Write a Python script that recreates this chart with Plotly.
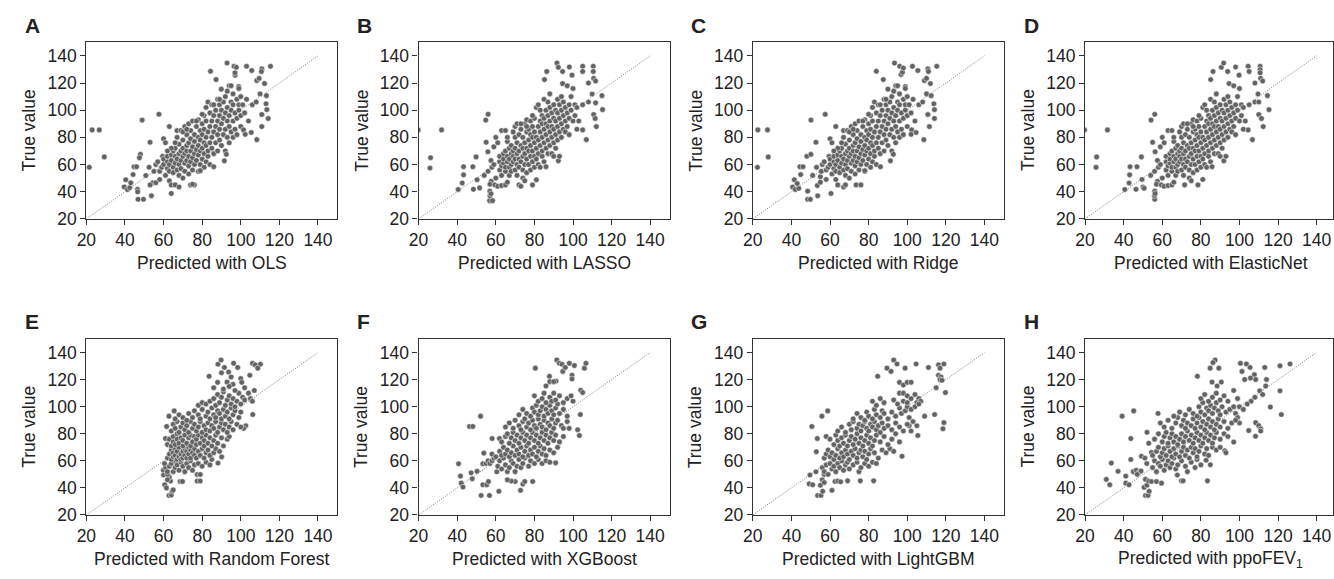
import plotly.graph_objects as go

# ---------------- data (approx.) ----------------
tick_vals = [20, 40, 60, 80, 100, 120, 140]
identity_line = [20, 140]
panel_letters = ["A", "B", "C", "D", "E", "F", "G", "H"]
x_titles = ["Predicted with OLS", "Predicted with LASSO", "Predicted with Ridge",
            "Predicted with ElasticNet", "Predicted with Random Forest",
            "Predicted with XGBoost", "Predicted with LightGBM",
            "Predicted with ppoFEV<sub>1</sub>"]
y_title = "True value"

# (predicted, true) pairs
OLS = [
    (21.5,58),(23,85.5),(26.7,85.5),(29.3,65.6),(39.6,43.5),(40.4,48.8),(41.3,41.6),(42.5,43),(43,46.5),
    (44.2,52.6),(44.7,58.4),(46,58.4),(46.5,41.8),(46.6,39.9),(46.8,34.4),(49.6,34.4),(48,67.5),(47.5,65),
    (48.9,92.7),(50.8,51.9),(53,76.4),(53.7,37),(54.5,46.6),(56,46.6),(57.6,97),(53,45),(52.5,58),(55,55),
    (56,60),(57,62),(58,49),(58,55),(59,58),(59.5,66),(60,60),(60,64),(60,79),(61,76),(61,52),(62,57),
    (62,62),(62,66),(63,48),(63,55),(63,60),(63,88),(64,38.7),(64,45),(64,63),(64,67),(65,58),(65,70),
    (65,54),(66,45),(66,61),(66,66),(66,72),(67,56),(67,64),(67,80),(67,85),(68,43.5),(68,52),(68,60),
    (68,68),(68,75),(69,57),(69,63),(69,70),(69,85),(70,50),(70,66),(70,72),(70,78),(71,55),(71,61),
    (71,68),(71,88),(72,63),(72,70),(72,74),(72,82),(73,53),(73,59),(73,66),(73,76),(73,90),(74,45),
    (74,62),(74,70),(74,79),(74,85),(75,56),(75,65),(75,73),(75,92),(76,45),(76,60),(76,68),(76,77),
    (76,82),(77,63),(77,71),(77,88),(78,55),(78,67),(78,74),(78,80),(78,93),(79,60),(79,70),(79,78),
    (79,85),(80,64),(80,72),(80,82),(80,90),(81,58),(81,68),(81,76),(81,86),(81,96),(82,62),(82,74),
    (82,80),(82,92),(82,102),(83,66),(83,70),(83,84),(83,106),(84,60),(84,76),(84,88),(84,98),(84.3,128.7),
    (85,72),(85,80),(85,92),(85,104),(86,58.4),(86,68),(86,84),(86,96),(87,76),(87,88),(87,100),(87.2,122.5),
    (88,70),(88,82),(88,92),(88,108),(89,78),(89,86),(89,96),(89,104),(90,74),(90,90),(90,100),(89.9,115.5),
    (91,82),(91,94),(91,106),(91.5,62.7),(92,70),(92,86),(92,98),(92,110),(92.5,67.5),(93,80),(93,92),
    (93,102),(92.9,134.7),(94,76),(94,88),(94,96),(94,118),(95,84),(95,100),(95,106),(96,80),(96,92),
    (96,104),(96,112),(96.5,132.3),(97,86),(97,98),(97.1,125.8),(97,127.5),(97.7,131.6),(98,82),(98,94),
    (98,108),(98.9,117.4),(99,100),(99,104),(100,88),(100,96),(100,110),(101.4,85.5),(101,104),(102.3,82.2),
    (102,98),(103,132.3),(103,108),(104,92),(105.4,83.6),(105.7,129.2),(106,104),(108.3,78.3),(108.3,121.8),
    (108,106),(109.5,123.4),(110,112),(110.9,130.4),(110.7,128.5),(110.9,96.8),(110.9,87.9),(112.3,119.6),
    (113.3,110.7),(113.1,104.7),(113.5,100.4),(114.2,93.9),(115.4,132.3),(95,118),(93,114),(89,108),
    (86,104),(99,116),(75,45.5),(79,55.5),(70,84),(64,72),(62,70),(66,76),(72,86),(77,92),(80,97),
]

LASSO = [
    (19.8,85.5),(26.2,65),(25.9,57.4),(31.9,85.5),(40.5,41.6),(42.6,46.4),(43.3,52.4),(43.3,58.4),(48.1,58.4),
    (48.4,41.8),(50.3,48.8),(49.8,65.6),(51.6,42.8),(55,76.4),(55.9,69.4),(54.8,92.7),(56,97),(56.8,33.4),
    (58.3,33.4),(57,37),(56.9,40.4),(57.5,38.5),(57.6,47.6),(57,45.5),(59.5,45),(60,50),(54,52),(56,55),
    (58,58),(57.5,63),(59,60),(59,73),(60,80),(61,76),(61,44),(62,56),(62,62),(62,66),(63,44.5),(63,52),
    (63,59),(63,85),(64,61),(64,64),(64,68),(65,45),(65,55),(65,58),(65,70),(65,85),(66,47),(66,62),(66,66),
    (66,77),(67,52),(67,58),(67,64),(67,72),(68,55),(68,60),(68,68),(68,74),(69,62),(69,66),(69,70),(70,56),
    (70,64),(70,72),(70,80),(70,88),(71,52),(71,60),(71,68),(71,76),(71,90),(72,45),(72,58),(72,64),(72,70),
    (72,82),(73,44),(73,62),(73,74),(73,86),(74,50),(74,56),(74,66),(74,72),(74,80),(75,48),(75,60),(75,68),
    (75,76),(75,90),(76,54),(76,64),(76,72),(76,84),(76,93),(77,60),(77,70),(77,78),(77,86),(78,56),(78,66),
    (78,74),(78,82),(78,92),(79,45),(79,62),(79,70),(79,80),(79,88),(80,58),(80,66),(80,76),(80,84),(80,94),
    (81,48.8),(81,64),(81,72),(81,80),(81,102),(82,60),(82,68),(82,78),(82,88),(82,104),(83,58),(83,74),
    (83,84),(83,92),(83,100),(84,66),(84,70),(84,80),(84,90),(84,96),(85,62),(85,76),(85,86),(85,94),(85,108),
    (85.2,122.5),(86,58.4),(86,72),(86,82),(86,90),(86,100),(86.4,128.5),(87,68),(87,78),(87,88),(87,96),
    (87,106),(88,74),(88,84),(88,92),(88,102),(88,112),(89,68),(89,80),(89,88),(89,98),(90,66),(90,76),
    (90,86),(90,94),(90,104),(91,72),(91,82),(91,92),(91,100),(91.7,134.7),(92.4,131.6),(92.4,62.7),(92,78),
    (92,88),(92,98),(92,108),(93,66),(93,84),(93,94),(93,104),(94,80),(94,90),(94,100),(94,110),(94.6,119.6),
    (94.6,128.5),(95,86),(95,96),(95,106),(96,84),(96,92),(96,102),(97,88),(97,98),(97,118),(98,82),(98,94),
    (98,104),(98.1,131.8),(99,100),(99,110),(99.5,125.8),(100,116),(100,92),(101,96),(101,104),(102,86),
    (102,102),(103,92),(105,85.5),(105,132.3),(105,128.5),(105,104),(106.9,78.3),(108,106),(108,120),
    (109.9,111.9),(110.5,132.3),(110.5,128.5),(110.7,123.4),(111.7,121.5),(110.7,96.8),(111.5,93.9),
    (112.1,87.9),(111.7,105.4),(115,110.7),(115.3,100.4),(69,84),(73,90),(66,80),(76,88),(79,96),
]

RIDGE = [
    (22.4,57.9),(22.6,85.5),(27.6,85.5),(28,65.6),(40.6,43.5),(41.5,48.8),(42,41.6),(43.8,42.5),(43,46),
    (44.8,52.6),(44.4,58.4),(46,58.4),(48.4,40.4),(48.4,34.4),(49.8,34.4),(48,66),(50.1,67.5),(50.1,92.7),
    (51,52),(52.7,76.4),(53.6,37),(53.4,44.5),(55,51),(57.5,97),(55,47),(53,58),(55.5,55),(56,60),(57,62),
    (58,49),(58,56),(59,58),(59.5,66),(60,60),(60,64),(60,79),(61,76),(60.5,38.7),(61,53),(62,57),(62,62),
    (62,66),(63,49),(63,55),(63,60),(63,88),(64,45),(64,63),(64,67),(65,58),(65,70),(65,54),(66,61),(66,66),
    (66,72),(67,43.5),(67,56),(67,64),(67,80),(67,85),(68,45),(68,52),(68,60),(68,68),(68,75),(69,57),
    (69,63),(69,70),(69,85),(70,50),(70,66),(70,72),(70,78),(71,55),(71,61),(71,68),(71,88),(72,63),(72,70),
    (72,74),(72,82),(73,53),(73,59),(73,66),(73,76),(73,90),(73.5,45),(74,62),(74,70),(74,79),(74,85),
    (75,56),(75,65),(75,73),(75,92),(76,45),(76,60),(76,68),(76,77),(76,82),(77,63),(77,71),(77,88),(78,55),
    (78,67),(78,74),(78,80),(78,93),(79,60),(79,70),(79,78),(79,85),(80,64),(80,72),(80,82),(80,90),(81,58),
    (81,68),(81,76),(81,86),(81,96),(82,62),(82,74),(82,80),(82,92),(82,102),(83,66),(83,70),(83,84),
    (83,106),(84,60),(84,76),(84,88),(84,98),(84,128.7),(85,72),(85,80),(85,92),(85,104),(86.1,58.4),(86,68),
    (86,84),(86,96),(87,76),(87,88),(87,100),(87.6,122.5),(88,70),(88,82),(88,92),(88,108),(89,78),(89,86),
    (89,96),(89,104),(90,74),(90,90),(90,100),(90,115.5),(91,82),(91,94),(91,106),(91.3,62.7),(92,70),(92,86),
    (92,98),(92,110),(92.8,67.5),(93,80),(93,92),(93,102),(93.4,134.7),(94,76),(94,88),(94,96),(94,118),
    (95,84),(95,100),(95,106),(96,80),(96,92),(96,104),(96,112),(96.1,132.3),(97,86),(97,98),(96.8,126.3),
    (97.5,128),(98,131),(98,82),(98,94),(98,108),(99,117.4),(99,100),(99,104),(100,88),(100,96),(100,110),
    (102.3,85.5),(101,104),(102,82.2),(102,98),(102.7,132.3),(103,108),(104,92),(104.6,83.6),(105.5,129.2),
    (106,104),(108.6,78.3),(108.9,121.8),(108,106),(110,123.4),(110,112),(110.7,130.4),(111,128.5),
    (110.7,96.8),(111.5,87.9),(112,119.6),(112.4,110.7),(113.8,104.7),(114.1,100.4),(114.1,93.9),
    (115.3,132.3),(95,118),(93,114),(89,108),(86,104),(99,116),(78,55.5),(70,84),(64,72),(62,70),(66,76),
    (72,86),(77,92),(80,97),
]

ELASTICNET = [
    (19.8,85.5),(26,65.6),(25.7,57.9),(31.6,85.5),(40.6,41.6),(42.8,46.4),(43.1,52.4),(43.3,58.4),(46.9,58.4),
    (46.4,41.8),(49.2,65.6),(50,43.5),(50.6,42.5),(49.5,49),(54.2,92.7),(56.1,97),(55,76.4),(56.3,69.4),
    (56.1,34.4),(56,37),(56.1,40.4),(56.3,38.6),(57.5,47.6),(57,45.5),(59.5,45),(60,50),(54,52),(56,55),
    (58,58),(57.5,63),(59,60),(59,73),(60,80),(61,76),(61,44),(62,56),(62,62),(62,66),(63,44.5),(63,52),
    (63,59),(63,85),(64,61),(64,64),(64,68),(65,45),(65,55),(65,58),(65,70),(65,85),(66,47),(66,62),(66,66),
    (66,77),(67,52),(67,58),(67,64),(67,72),(68,55),(68,60),(68,68),(68,74),(69,62),(69,66),(69,70),(70,56),
    (70,64),(70,72),(70,80),(70,88),(71,52),(71,60),(71,68),(71,76),(71,90),(71.6,45),(72,58),(72,64),(72,70),
    (72,82),(73,62),(73,74),(73,86),(74,50),(74,56),(74,66),(74,72),(74,80),(75,48),(75,60),(75,68),(75,76),
    (75,90),(76,54),(76,64),(76,72),(76,84),(76,93),(77,60),(77,70),(77,78),(77,86),(78,56),(78,66),(78,74),
    (78.5,45),(78,82),(78,92),(79,62),(79,70),(79,80),(79,88),(80,58),(80,66),(80,76),(80,84),(80,94),(81,49),
    (81,64),(81,72),(81,80),(81,102),(82,60),(82,68),(82,78),(82,88),(82,104),(83,58),(83,74),(83,84),(83,92),
    (83,100),(84,66),(84,70),(84,80),(84,90),(84,96),(85,62),(85,76),(85,86),(85,94),(85,108),(85.1,122.5),
    (85.8,58.4),(86,72),(86,82),(86,90),(86,100),(86.3,128.5),(87,68),(87,78),(87,88),(87,96),(87,106),
    (88,74),(88,84),(88,92),(88,102),(88,112),(89,68),(89,80),(89,88),(89,98),(90,66),(90,76),(90,86),(90,94),
    (90,104),(90.6,131.6),(91,72),(91,82),(91,92),(91,100),(91.8,134.7),(91.9,62.7),(92,78),(92,88),(92,98),
    (92,108),(93,66),(93,84),(93,94),(93,104),(94,80),(94,90),(94,100),(94,110),(94.6,119.6),(93.9,128.5),
    (95,86),(95,96),(95,106),(96,84),(96,92),(96,102),(97,88),(97,98),(97,118),(98,82),(98,94),(98,104),
    (98,131.8),(99,100),(99,110),(99.8,125.8),(100,116),(100,92),(101,96),(101,104),(102,86),(102,102),
    (103,92),(104.5,85.5),(104.5,132.3),(105,128.5),(105,104),(106.7,78.3),(108,106),(108,120),(109.6,111.9),
    (110.7,132.3),(110.7,129.8),(110.7,127.5),(111,123.4),(112,121.5),(110,96.8),(111.4,93.9),(112.3,87.9),
    (110,106),(114.5,110.7),(115.3,100.4),(69,84),(73,90),(66,80),(76,88),(79,96),
]

RANDOM_FOREST = [
    (59.9,53.1),(60,49.5),(60.6,42.3),(61.5,40),(62.8,34.4),(64,34.8),(64.5,37.5),(65,38.5),(63.6,45),(63,48),
    (62,50),(61,55),(62,46),(60.5,58),(61,76.5),(61.6,85.4),(62.8,93),(65.5,96.9),(68.6,44.7),(69.8,44.7),
    (77.4,49.9),(79,49.9),(77.4,45.1),(79,45.1),(83.6,122.5),(88.2,131.4),(89.8,134.5),(91.5,129),(93.7,125.6),
    (96.3,132.1),(98.4,129),(92.9,118.2),(96,116.5),(100,120.8),(100.5,118),(104.7,123.2),(106.1,132.1),
    (107.5,130.9),(110.2,131.4),(108.8,128.5),(106.2,94.2),(102.6,85.9),(101.5,84),(90.1,62.9),(88.2,58.3),
    (62,52),(63,56),(64,58),(65,52),(66,55),(66,60),(67,57),(68,53),(69,59),(70,56),(71,52),(72,58),(73,55),
    (74,60),(75,53),(76,57),(78,58),(80,56),(82,59),(84,57),(85,61),
    (62,62),(63,65),(64,61),(64,68),(65,63),(65,66),(66,64),(66,69),(67,61),(67,67),(68,63),(68,70),(69,65),
    (69,61),(70,67),(70,62),(71,69),(71,64),(72,62),(72,67),(73,65),(73,70),(74,62),(74,68),(75,66),(76,64),
    (76,69),(77,62),(78,67),(79,64),(80,69),(81,62),(82,66),(83,68),(84,64),(86,66),(87,69),(89,67),
    (62,72),(63,76),(64,71),(65,74),(65,78),(66,72),(67,76),(67,80),(68,73),(69,77),(70,71),(70,75),(71,79),
    (72,73),(73,77),(74,71),(74,79),(75,74),(76,78),(77,72),(77,76),(78,79),(79,73),(80,77),(81,71),(81,75),
    (82,79),(83,73),(84,77),(85,71),(86,75),(87,79),(88,73),(90,77),(91,71),(93,76),(94,78),
    (64,82),(65,87),(66,84),(67,89),(68,81),(69,85),(70,88),(71,83),(72,86),(73,81),(74,89),(75,84),(76,87),
    (77,82),(78,85),(79,89),(80,81),(81,86),(82,83),(83,88),(84,82),(85,86),(86,84),(87,89),(88,81),(89,85),
    (90,88),(91,83),(92,87),(93,81),(94,85),(95,89),(96,83),(98,87),(100,85),
    (66,91),(68,94),(70,92),(72,90),(73,95),(75,92),(76,97),(78,94),(79,91),(80,98),(82,93),(83,96),(84,91),
    (85,99),(86,94),(87,92),(88,97),(89,95),(90,91),(91,98),(92,93),(93,96),(94,91),(95,99),(96,94),(97,97),
    (99,92),(100,96),
    (78,101),(80,103),(82,102),(84,104),(86,106),(87,101),(88,109),(89,103),(90,107),(91,111),(92,101),
    (93,105),(94,108),(95,102),(96,106),(97,100),(98,104),(99,110),(100,102),(101,107),(102,105),(104,110),
    (105,106),(107,112),(106,104),
    (86,114),(88,118),(91,113),(94,115),(97,112),(102,114),(90,125),(95,122),
]

XGBOOST = [
    (40.7,57.8),(41.7,48.7),(42.1,43.5),(43,40.6),(47.2,51.1),(47.8,46.8),(50.3,52.3),(46.4,85.4),(48.1,85.4),
    (52.1,93),(53.8,65.7),(53.3,57.8),(53.3,42.3),(55.3,42.3),(56.2,44.7),(52.4,34.4),(56.7,34.4),(61.6,37.5),
    (58.1,76.5),(61.9,76.5),(60.5,51.9),(72.8,38.2),(74,42.8),(75,44.7),(79.1,44.7),(70,44.7),(68,45),(66,46),
    (80.5,128.5),(91.6,134.5),(92.9,132.1),(94.3,131.4),(94.7,126.1),(96,129),(98.1,132.1),(100.7,130.4),
    (99.5,123.2),(99.5,120.5),(91.2,118.9),(87.8,122.5),(86,115.3),(88,118.5),(90,118.5),(104,112.2),
    (105,110.5),(105.9,128.5),(106.7,132.1),(103.8,94.2),(102.4,83),(103.3,78.7),(91,58.5),
    (55,58),(56,60),(57,58),(58,60),(59,62),(61,56),(62,60),(63,54),(64,62),(65,57),(66,52),(67,55),(68,60),
    (69,58),(70,52),(71,56),(72,61),(73,55),(74,58),(75,62),(77,56),(78,60),(80,58),(82,61),(84,58),(86,60),
    (88,59),
    (58,65),(60,63),(62,67),(63,64),(64,70),(65,65),(66,68),(67,63),(68,66),(69,71),(70,64),(71,68),(72,65),
    (73,70),(74,63),(75,67),(76,71),(77,64),(78,68),(79,65),(80,70),(81,63),(82,67),(83,71),(84,65),(85,69),
    (86,64),(88,68),(90,66),(92,70),
    (63,74),(65,78),(66,80),(67,73),(68,77),(69,81),(70,75),(71,79),(72,73),(73,77),(74,81),(75,75),(76,79),
    (77,73),(78,77),(79,81),(80,75),(81,79),(82,73),(83,77),(84,81),(85,75),(86,79),(87,73),(88,77),(89,81),
    (90,75),(91,79),(93,74),(95,78),
    (65,85),(67,88),(69,84),(70,90),(72,86),(73,83),(74,89),(75,91),(76,85),(77,88),(78,83),(79,90),(80,86),
    (81,84),(82,91),(83,87),(84,85),(85,90),(86,83),(87,88),(88,86),(89,91),(90,84),(91,88),(92,90),(94,86),
    (95,84),(97,89),(98,84),
    (72,94),(74,98),(76,95),(78,93),(79,99),(80,96),(81,101),(82,94),(83,97),(84,100),(85,93),(86,98),(87,95),
    (88,101),(89,97),(90,94),(91,99),(92,102),(93,95),(95,98),(97,93),
    (80,108),(82,104),(84,106),(85,110),(86,103),(88,107),(89,104),(90,110),(91,105),(93,108),(95,103),
    (97,106),(99,108),(100,104),
]

LIGHTGBM = [
    (49.6,49.5),(49.2,43),(51,42.3),(52.7,51.9),(52.9,66.7),(53.4,76.5),(50.6,85.4),(55.8,93),(58.8,96.9),
    (53.6,34.4),(55.3,34.4),(56.2,37.5),(55,42),(56,46),(57,44),(57,50),(61,38.2),(62.6,44.7),(64,45),
    (65.5,44.5),(69.1,45.2),(75.7,45.2),(82.6,45.2),
    (93,134.5),(94.7,131.6),(89.5,128.5),(91.6,126.1),(84.7,122.5),(98.9,128.5),(104.6,131.6),(111,129),
    (116.2,130.9),(117,128.5),(119,131.6),(116.2,123.2),(117.5,122),(117,120),(118,119.5),(115,114),
    (119.8,110.5),(119,88.2),(118.5,83.7),(114.2,94.2),(105,85.9),(105.5,78.7),(97.3,63.4),(96,118),(98,116),
    (100,118),(102,118),(96,110),(98,110),(100,108),(104,109),(106,106),(105,103),(107,104),(109,93),(101,92),
    (103,89),(101,86),(102,82),
    (56,55),(57,52),(58,57),(59,50),(60,58),(61,54),(62,56),(63,52),(64,58),(65,55),(66,60),(67,53),(68,57),
    (69,59),(70,54),(72,57),(74,59),(75,52),(76,55),(78,58),(80,56),(82,59),(84,58),
    (57,62),(58,65),(59,68),(60,63),(61,66),(62,61),(63,64),(64,69),(65,62),(66,66),(67,63),(68,68),(69,65),
    (70,61),(71,67),(72,64),(73,69),(74,62),(75,66),(76,68),(77,63),(78,67),(79,61),(80,65),(81,69),(83,66),
    (85,62),(87,68),(89,66),(91,69),(93,67),
    (58,78),(60,76),(62,72),(63,79),(64,75),(65,71),(66,77),(67,73),(68,79),(69,71),(70,75),(71,78),(72,72),
    (73,76),(74,80),(75,73),(76,77),(77,71),(78,75),(79,79),(80,73),(81,77),(82,71),(83,75),(84,79),(86,74),
    (88,78),(90,72),(92,76),(94,80),(96,74),
    (64,82),(66,85),(68,81),(70,87),(71,83),(72,89),(74,84),(75,87),(76,82),(77,86),(78,89),(79,84),(80,82),
    (81,87),(82,85),(83,89),(84,83),(85,86),(86,81),(87,88),(88,84),(90,86),(92,83),(94,88),(96,85),(98,82),
    (100,87),
    (72,91),(74,95),(76,92),(78,90),(79,96),(80,93),(82,91),(83,98),(84,94),(86,92),(87,97),(88,95),(90,91),
    (92,96),(94,93),(96,99),(97,95),(99,97),(100,100),(102,98),
    (82,104),(84,101),(86,106),(88,103),(93,105),(95,102),(98,104),(100,103),(102,106),(104,100),(106,102),
]

PPOFEV1 = [
    (31,46.3),(32.8,42.3),(33.6,58.3),(37.1,52.3),(41.1,48.7),(41.1,43.5),(42.8,42.3),(39.2,93),(45.2,96.9),
    (43.7,76.5),(43.7,61),(45,52),(46.5,53),(48,51.5),(49,52.5),(47,50),(49.2,63.4),(51,62),(52,58),(51.3,46.3),
    (50.6,40.4),(51.3,34.4),(52.6,34.4),(53.2,37.5),(52,42),(53,45),(54.4,44.7),(57,44.7),(59.6,43.5),
    (52.1,81.1),(53,73),(54.4,66.2),(57.8,95),(69.9,45.2),(70.8,45.2),(67.8,49.5),(83.4,45.2),(82.7,60.4),
    (84.9,57.1),
    (87.4,134.5),(86.3,132.6),(84.8,128.5),(89.3,128.5),(78.2,122.5),(85.8,118.2),(88.4,115.3),(90.6,118.2),
    (100.5,132.1),(103.6,131.6),(105.5,129),(101.3,126.1),(102.7,120.1),(107.7,123.7),(108.4,120.1),
    (105.7,121.2),(113.1,129),(114,120.1),(113.6,115.3),(121,130.2),(126.2,131.6),(121,111.7),(121.7,94.2),
    (116,99.8),(110.5,111.7),(112,109),(108,107),(106,104),(104,102),(108.4,88.2),(110,86),(111,83.7),(111,82),
    (108.3,78.2),(104.8,82.4),(97,73.9),(92.4,67.4),(93,66),(100,100),(102,98),(98,95),(100,88),(99,92),
    (55,55),(56,60),(57,52),(58,58),(59,56),(60,61),(61,53),(62,57),(63,60),(64,55),(65,58),(66,62),(67,54),
    (68,57),(70,60),(72,56),(73,52),(75,59),(77,55),(78,61),(80,57),
    (55,64),(57,67),(58,70),(59,63),(60,66),(61,69),(62,64),(63,71),(64,67),(65,63),(66,69),(67,65),(68,71),
    (69,63),(70,67),(71,70),(72,64),(73,68),(74,62),(75,70),(76,66),(77,69),(78,63),(79,67),(80,71),(82,65),
    (83,69),(84,64),(86,70),(88,68),(90,70),
    (56,76),(58,80),(60,74),(61,78),(62,81),(63,73),(64,77),(65,80),(66,74),(67,78),(68,72),(69,76),(70,80),
    (71,74),(72,78),(73,82),(74,75),(75,79),(76,73),(77,77),(78,81),(79,75),(80,79),(81,73),(82,77),(83,81),
    (84,75),(85,79),(86,73),(87,77),(88,81),(90,76),(92,80),(94,78),
    (59,88),(61,85),(63,90),(65,84),(67,88),(68,92),(70,86),(71,90),(72,84),(73,88),(75,86),(76,91),(77,84),
    (78,88),(79,92),(80,85),(81,89),(82,83),(83,87),(84,91),(85,85),(86,89),(87,83),(88,87),(89,91),(90,85),
    (92,89),(94,84),(96,88),(98,90),
    (66,93),(69,96),(72,94),(74,98),(76,95),(78,93),(79,100),(80,96),(81,103),(82,94),(83,99),(84,97),
    (85,101),(86,95),(87,99),(88,103),(89,97),(90,94),(91,100),(93,96),(95,98),(97,100),
    (80,106),(82,109),(84,104),(86,107),(88,110),(90,105),(92,108),(94,104),(97,112),(99,106),
]

panels = [OLS, LASSO, RIDGE, ELASTICNET, RANDOM_FOREST, XGBOOST, LIGHTGBM, PPOFEV1]

# ---------------- layout (pixels of a 1334 x 579 page) ----------------
W, H = 1334, 579
col_left = [77, 412, 749, 1084]
plot_w = 253
row_top = [43, 345]
row_bottom = [222.7, 524]

FONT = "Liberation Sans, Arial, Helvetica, sans-serif"
TXT = "#222222"
AX = "#333333"

fig = go.Figure()
annotations = []

for i, pts in enumerate(panels):
    r, c = divmod(i, 4)
    pred = [p[0] for p in pts]
    true = [p[1] for p in pts]
    left = col_left[c]
    right = min(left + plot_w, W)
    xr_max = 20 + (right - left) / (plot_w / 130.0)
    xa = "x" if i == 0 else f"x{i+1}"
    ya = "y" if i == 0 else f"y{i+1}"

    fig.add_trace(go.Scatter(
        x=identity_line, y=identity_line, mode="lines", xaxis=xa, yaxis=ya,
        line=dict(color="#7a7a7a", width=1, dash="1px,1.5px"), hoverinfo="skip", showlegend=False))
    fig.add_trace(go.Scatter(
        x=pred, y=true, mode="markers", xaxis=xa, yaxis=ya, showlegend=False,
        marker=dict(size=5.6, color="#636363", line=dict(color="#ffffff", width=0.5))))

    axis_common = dict(
        showgrid=False, zeroline=False, showline=True, mirror=True,
        linecolor=AX, linewidth=1.3, ticks="outside", ticklen=5, tickwidth=1.1,
        tickcolor=AX, tickvals=tick_vals, tickfont=dict(family=FONT, size=17.5, color=TXT),
    )
    xdom = [left / W, right / W]
    ydom = [1 - row_bottom[r] / H, 1 - row_top[r] / H]
    fig.layout[("xaxis" if i == 0 else f"xaxis{i+1}")] = dict(
        axis_common, domain=xdom, range=[20, xr_max], anchor=ya)
    fig.layout[("yaxis" if i == 0 else f"yaxis{i+1}")] = dict(
        axis_common, domain=ydom, range=[20, 150], anchor=xa)

    # panel letter
    annotations.append(dict(
        text=f"<b>{panel_letters[i]}</b>", xref="paper", yref="paper",
        x=(left - 64) / W, y=1 - (row_top[r] - 17.5) / H, xanchor="left", yanchor="middle",
        showarrow=False, font=dict(family=FONT, size=21, color=TXT)))
    # x title
    annotations.append(dict(
        text=x_titles[i], xref="paper", yref="paper",
        x=(left + plot_w / 2) / W, y=1 - (row_bottom[r] + 45) / H,
        xanchor="center", yanchor="middle", showarrow=False,
        font=dict(family=FONT, size=17.5, color=TXT)))
    # y title
    annotations.append(dict(
        text=y_title, xref="paper", yref="paper", textangle=-90,
        x=(left - 58) / W, y=1 - (row_top[r] + row_bottom[r]) / 2 / H,
        xanchor="center", yanchor="middle", showarrow=False,
        font=dict(family=FONT, size=17.5, color=TXT)))

fig.update_layout(
    width=W, height=H, margin=dict(l=0, r=0, t=0, b=0),
    paper_bgcolor="white", plot_bgcolor="white",
    annotations=annotations, font=dict(family=FONT, color=TXT),
)

fig.write_html(
    "out.html",
    config={"displayModeBar": False},
    post_script="document.body.style.margin='0';document.body.style.overflow='hidden';",
)
